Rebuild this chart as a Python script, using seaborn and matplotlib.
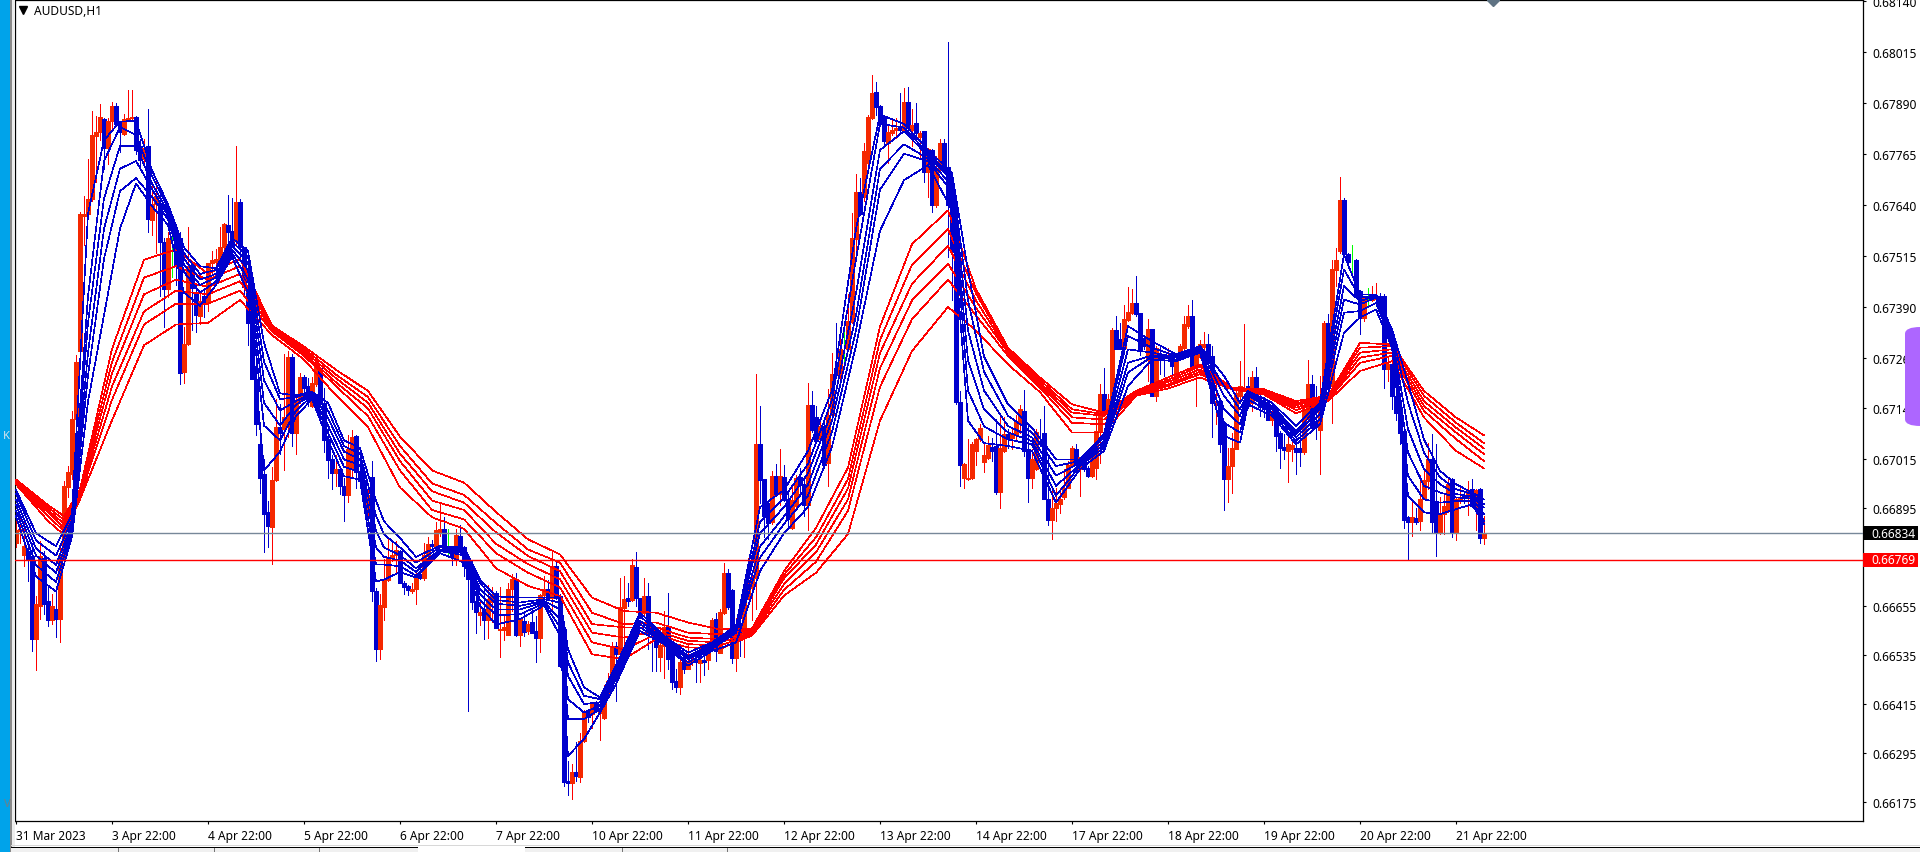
import numpy as np
import pandas as pd
import seaborn as sns
from matplotlib import pyplot as plt
from matplotlib.patches import Rectangle, FancyBboxPatch

# prices are in points (1e-5), one entry per H1 bar
opens = [66811,66839,66780,66790,66778,66574,66656,66774,66668,66621,66647,66623,
66779,66947,66980,67113,67281,67612,67618,67655,67808,67817,67850,67778,
67846,67883,67844,67813,67850,67853,67856,67784,67751,67784,67603,67642,
67645,67549,67433,67558,67558,67558,67229,67297,67491,67420,67367,67415,
67398,67496,67500,67506,67535,67590,67576,67551,67647,67537,67443,67388,
67212,67052,66979,66887,66850,66965,67094,67089,67094,67266,67080,67158,
67218,67195,67146,67200,67239,67154,67064,67015,66981,66991,66951,66928,
66995,67073,66983,66963,66891,66971,66693,66550,66653,66718,66776,66780,
66790,66713,66705,66691,66696,66734,66725,66780,66808,66802,66838,66845,
66808,66802,66774,66827,66801,66762,66722,66667,66634,66647,66622,66665,
66688,66596,66597,66585,66696,66721,66584,66619,66593,66615,66594,66576,
66682,66696,66676,66754,66680,66598,66227,66221,66247,66237,66325,66398,
66390,66417,66392,66380,66442,66472,66557,66537,66650,66674,66670,66752,
66674,66639,66679,66607,66594,66531,66558,66605,66566,66472,66456,66517,
66502,66517,66525,66516,66523,66522,66558,66623,66541,66639,66737,66695,
66527,66611,66582,66676,66700,66723,67053,66967,66907,66861,66974,66930,
66972,66917,66847,66900,66972,66955,66903,67149,67119,67064,67096,67007,
67124,67228,67222,67267,67285,67352,67555,67672,67659,67741,67852,67917,
67883,67855,67792,67815,67822,67829,67820,67891,67824,67840,67806,67820,
67720,67774,67638,67726,67790,67732,67682,67525,67156,66970,66967,66970,
67036,67064,67009,67018,67046,67048,66934,67036,67077,67068,67077,67105,
67135,67040,66969,66991,67060,67079,66918,66867,66895,66905,66922,66946,
67001,67040,66991,67022,66995,66975,66995,67085,67175,67126,67159,67332,
67311,67289,67358,67373,67398,67373,67314,67258,67334,67171,67273,67273,
67265,67273,67211,67262,67289,67342,67368,67244,67267,67290,67297,67269,
67153,67158,67101,66968,66999,67040,67171,67187,67195,67154,67218,67160,
67146,67144,67112,67138,67081,67046,67036,67040,67042,67042,67032,67113,
67199,67109,67087,67191,67349,67195,67479,67526,67652,67518,67501,67504,
67428,67361,67412,67406,67409,67417,67416,67236,67250,67171,67134,67085,
66873,66862,66871,66864,66919,66962,67015,66909,66837,66881,66889,66966,
66837,66914,66926,66921,66942,66899,66943,66823]
closes = [66843,66845,66803,66770,66574,66660,66778,66660,66621,66656,66623,66780,
66949,66984,67113,67254,67616,67618,67655,67810,67819,67854,67778,67846,
67881,67839,67818,67850,67853,67856,67775,67749,67779,67605,67642,67662,
67549,67433,67558,67558,67489,67226,67297,67489,67435,67369,67404,67397,
67498,67503,67507,67535,67592,67574,67539,67647,67535,67438,67350,67212,
67102,66969,66882,66852,66965,67094,67080,67119,67266,67080,67158,67216,
67189,67163,67202,67241,67151,67062,67014,66981,66991,66951,66928,67041,
67071,66983,66963,66914,66928,66693,66550,66658,66720,66776,66780,66794,
66713,66702,66695,66697,66732,66725,66780,66808,66802,66842,66845,66802,
66808,66778,66829,66799,66753,66721,66665,66640,66640,66622,66673,66684,
66601,66598,66605,66698,66721,66584,66623,66592,66612,66589,66576,66682,
66696,66676,66754,66676,66509,66224,66221,66247,66239,66325,66398,66382,
66417,66398,66396,66442,66472,66555,66537,66652,66672,66668,66755,66674,
66639,66679,66598,66597,66554,66559,66605,66525,66469,66456,66517,66500,
66518,66522,66518,66523,66518,66559,66621,66545,66641,66737,66652,66528,
66607,66578,66676,66703,66723,67053,66964,66875,66859,66974,66930,66974,
66915,66869,66915,66970,66953,66903,67149,67087,67059,67096,67001,67124,
67225,67222,67287,67267,67354,67557,67672,67617,67772,67855,67914,67880,
67838,67797,67817,67822,67829,67824,67891,67829,67836,67815,67815,67720,
67776,67638,67728,67790,67728,67640,67525,67156,67001,67004,66970,67053,
67064,67092,67027,67050,67036,66934,67042,67077,67064,67077,67107,67138,
67036,66969,67016,67082,67052,66918,66867,66897,66907,66917,66946,67001,
67042,67003,67020,66991,66975,67020,67085,67175,67126,67163,67332,67287,
67287,67360,67376,67398,67371,67285,67292,67334,67171,67289,67265,67265,
67271,67244,67262,67293,67346,67367,67244,67270,67297,67297,67252,67154,
67158,67052,66966,66999,67042,67179,67194,67191,67146,67218,67171,67144,
67138,67112,67130,67073,67042,67038,67052,67051,67033,67032,67138,67199,
67093,67097,67171,67349,67191,67481,67505,67651,67518,67499,67501,67414,
67361,67410,67412,67412,67417,67399,67236,67250,67171,67130,67081,66867,
66862,66873,66862,66919,66965,67015,66862,66837,66883,66901,66954,66836,
66917,66920,66922,66938,66901,66940,66823,66834]
highs = [66872,66868,66860,66815,66811,66680,66815,66790,66701,66684,66701,66803,
66963,67000,67134,67272,67622,67662,67753,67869,67857,67887,67853,67853,
67892,67890,67844,67862,67922,67922,67857,67802,67802,67875,67689,67705,
67668,67558,67572,67574,67558,67572,67341,67586,67498,67443,67420,67433,
67498,67526,67530,67586,67595,67664,67656,67784,67653,67537,67503,67424,
67277,67108,67015,66914,66997,67163,67151,67274,67281,67274,67172,67226,
67221,67214,67216,67246,67242,67191,67098,67025,67025,66997,66969,67075,
67086,67075,67015,66983,66950,67011,66700,66684,66770,66824,66817,66815,
66794,66716,66707,66711,66743,66756,66811,66824,66817,66861,66905,66873,
66845,66802,66845,66854,66803,66776,66767,66688,66667,66713,66707,66702,
66693,66702,66636,66713,66733,66737,66627,66643,66619,66647,66631,66684,
66729,66719,66794,66766,66684,66607,66276,66268,66321,66344,66401,66402,
66420,66423,66402,66461,66492,66566,66566,66723,66728,66711,66770,66789,
66676,66725,66711,66611,66598,66603,66642,66688,66570,66500,66523,66521,
66563,66541,66541,66527,66537,66562,66626,66639,66647,66760,66747,66697,
66627,66630,66680,66774,66741,67225,67147,66967,66912,66986,67004,67041,
67001,66935,66949,66976,66995,66967,67202,67184,67147,67119,67106,67188,
67276,67350,67311,67331,67422,67619,67714,67705,67790,67861,67958,67940,
67885,67857,67838,67852,67852,67914,67926,67929,67875,67889,67820,67820,
67778,67776,67760,67800,67800,68039,67695,67663,67184,67006,67064,67057,
67068,67101,67055,67073,67068,67113,67122,67118,67089,67089,67123,67148,
67185,67105,67040,67089,67113,67145,67020,66950,66946,66946,66991,67011,
67048,67052,67022,67028,66999,67024,67122,67201,67240,67175,67338,67367,
67350,67393,67439,67432,67466,67375,67318,67360,67336,67293,67293,67273,
67289,67277,67265,67297,67367,67393,67405,67270,67309,67328,67322,67293,
67203,67162,67105,67044,67081,67183,67256,67346,67216,67232,67242,67187,
67167,67158,67146,67142,67085,67077,67085,67064,67073,67089,67144,67258,
67221,67195,67220,67354,67371,67505,67534,67708,67656,67522,67542,67506,
67430,67416,67436,67440,67447,67424,67420,67269,67252,67175,67162,67089,
66877,66913,66897,66976,66987,67056,67078,67052,66922,66930,66970,66970,
66922,66944,66932,66962,66966,66942,66945,66877]
lows = [66799,66811,66754,66717,66545,66499,66623,66635,66607,66611,66580,66567,
66770,66922,66968,67106,67254,67542,67604,67650,67696,67798,67727,67739,
67822,67834,67770,67811,67848,67850,67765,67727,67745,67574,67566,67521,
67415,67339,67413,67463,67444,67201,67203,67295,67332,67327,67346,67364,
67378,67470,67470,67498,67507,67530,67535,67539,67507,67420,67295,67212,
67076,66933,66788,66799,66759,66962,67029,66988,67071,67048,67029,67154,
67163,67146,67143,67195,67151,67034,66969,66942,66951,66930,66863,66911,
66974,66944,66955,66886,66854,66667,66520,66525,66621,66716,66767,66734,
66711,66684,66682,66688,66661,66722,66720,66776,66794,66799,66826,66799,
66778,66757,66755,66794,66730,66398,66647,66590,66610,66575,66578,66615,
66601,66531,66571,66585,66643,66582,66558,66582,66586,66589,66517,66543,
66656,66672,66647,66672,66505,66213,66192,66182,66227,66223,66321,66372,
66355,66396,66327,66378,66435,66468,66423,66535,66558,66656,66668,66656,
66627,66631,66550,66496,66496,66496,66478,66500,66451,66445,66439,66490,
66500,66510,66468,66469,66486,66500,66551,66521,66540,66635,66647,66515,
66496,66533,66531,66672,66622,66649,66907,66824,66820,66857,66926,66903,
66912,66852,66845,66898,66926,66875,66843,67082,67059,67055,66995,66949,
67115,67220,67202,67237,67281,67350,67517,67615,67649,67737,67849,67861,
67834,67788,67742,67811,67803,67815,67820,67824,67785,67812,67753,67695,
67659,67622,67634,67720,67723,67511,67405,67152,66949,66944,66965,66968,
67001,67060,66983,67016,67011,66930,66895,67032,67042,67040,67060,67081,
67024,66911,66946,66989,67048,66918,66855,66821,66864,66883,66917,66944,
66999,66987,66926,66987,66973,66971,66968,67007,67122,67122,67154,67285,
67285,67287,67354,67371,67367,67270,67285,67207,67171,67158,67224,67220,
67260,67224,67207,67259,67285,67338,67242,67146,67265,67260,67236,67069,
67101,67032,66891,66911,66932,67040,67154,67183,67140,67134,67169,67122,
67120,67112,67099,67036,66995,67015,66960,67011,66979,67000,67028,67109,
67089,67066,66980,67167,67162,67104,67440,67522,67515,67485,67473,67412,
67322,67354,67395,67403,67407,67367,67191,67207,67138,67112,67052,66846,
66769,66826,66856,66842,66917,66942,66834,66779,66832,66832,66886,66824,
66818,66909,66909,66878,66899,66842,66811,66807]

# fan of slow averages, read top to bottom at each listed bar
red_bars = [0,8,12,16,24,32,40,48,56,64,72,80,88,96,104,112,120,128,136,144,152,160,168,176,184,
            192,200,208,216,224,233,240,248,256,264,272,280,288,296,304,312,320,328,336,344,352,360,367]
red1 = [66966,66903,66876,66942,67286,67505,67530,67470,67507,67343,67292,67235,67183,67071,66988,66958,66886,66819,66782,66676,66643,66639,66615,66598,66600,
        66741,66847,66995,67341,67543,67626,67433,67289,67216,67150,67130,67183,67216,67248,67191,67187,67158,67171,67301,67297,67183,67118,67074]
red2 = [66963,66897,66867,66936,67254,67461,67489,67456,67489,67341,67287,67223,67168,67048,66956,66928,66859,66794,66762,66639,66611,66615,66590,66586,66597,
        66732,66824,66967,67308,67493,67580,67422,67285,67210,67138,67126,67180,67210,67243,67191,67185,67153,67169,67289,67293,67171,67105,67055]
red3 = [66961,66891,66857,66931,67226,67420,67456,67438,67470,67338,67281,67214,67154,67029,66937,66909,66836,66778,66741,66611,66603,66603,66578,66574,66594,
        66723,66806,66944,67276,67446,67539,67405,67281,67203,67130,67122,67178,67205,67236,67190,67183,67148,67167,67277,67285,67158,67093,67042]
red4 = [66959,66885,66848,66926,67194,67378,67429,67420,67452,67333,67275,67204,67140,67011,66914,66891,66808,66758,66721,66590,66578,66594,66570,66566,66590,
        66709,66787,66917,67239,67405,67495,67387,67277,67197,67118,67113,67176,67199,67230,67189,67180,67142,67164,67265,67277,67146,67081,67028]
red5 = [66956,66876,66839,66922,67161,67346,67397,67397,67429,67329,67269,67195,67121,66988,66891,66868,66785,66737,66701,66566,66549,66586,66562,66558,66587,
        66695,66764,66889,67193,67359,67456,67368,67269,67191,67105,67101,67173,67195,67224,67189,67177,67136,67161,67252,67269,67134,67065,67011]
red6 = [66954,66864,66830,66917,67111,67295,67346,67350,67406,67320,67260,67172,67094,66946,66873,66845,66748,66705,66680,66537,66525,66574,66554,66550,66583,
        66681,66737,66832,67110,67281,67389,67331,67248,67180,67081,67081,67171,67189,67216,67187,67174,67128,67158,67232,67256,67118,67036,66993]

# fan of fast averages, read top to bottom at each listed bar
blue_bars = [0,5,10,14,18,22,26,30,34,38,42,46,50,54,58,62,66,70,74,78,82,86,90,92,96,100,106,112,116,120,
             126,132,136,138,142,146,150,156,162,168,174,180,186,192,198,204,210,216,222,228,234,238,242,
             248,254,260,266,272,278,284,290,296,302,306,308,314,320,326,332,336,340,344,348,352,356,360,364,367]
blue1 = [66940,66834,66802,66880,67618,67798,67844,67845,67724,67641,67535,67489,67484,67558,67526,67301,67177,67172,67181,67154,67062,67043,66914,66863,66822,66776,66803,66799,66720,66679,
         66676,66676,66676,66549,66456,66431,66509,66639,66582,66541,66566,66607,66898,66940,67036,67184,67580,67861,67838,67774,67718,67479,67267,
         67150,67093,67015,67015,67077,67342,67305,67273,67293,67220,67154,67183,67154,67097,67154,67518,67420,67420,67334,67203,67064,66987,66954,66934,66917]
blue2 = [66931,66816,66779,66867,67415,67747,67830,67811,67710,67632,67521,67470,67480,67549,67512,67255,67163,67168,67180,67135,67048,67029,66877,66831,66799,66762,66799,66794,66711,66670,
         66664,66672,66664,66517,66435,66427,66500,66631,66578,66533,66562,66603,66861,66921,67004,67161,67506,67838,67829,67766,67709,67405,67230,
         67122,67081,66999,67011,67069,67318,67289,67269,67292,67195,67138,67179,67146,67085,67146,67481,67412,67417,67326,67154,67032,66971,66942,66930,66905]
blue3 = [66917,66797,66756,66857,67350,67655,67784,67784,67692,67622,67507,67456,67470,67539,67498,67209,67135,67158,67177,67117,67034,67015,66840,66799,66780,66748,66794,66790,66697,66661,
         66656,66668,66647,66484,66415,66419,66492,66619,66574,66529,66558,66598,66834,66898,66981,67133,67423,67774,67820,67760,67700,67331,67184,
         67097,67069,66975,67007,67060,67285,67277,67266,67289,67171,67122,67175,67142,67077,67138,67440,67403,67416,67318,67089,66991,66954,66930,66924,66897]
blue4 = [66903,66779,66737,66848,67277,67581,67728,67747,67678,67613,67493,67443,67461,67530,67480,67154,67098,67149,67174,67098,67015,67002,66799,66776,66767,66739,66794,66785,66684,66647,
         66647,66665,66623,66427,66394,66411,66484,66611,66570,66525,66554,66594,66801,66875,66953,67110,67368,67728,67788,67753,67686,67258,67138,
         67081,67060,66950,67003,67052,67252,67270,67265,67285,67138,67101,67171,67138,67069,67126,67407,67395,67412,67309,67032,66950,66934,66922,66919,66881]
blue5 = [66890,66756,66714,66839,67221,67507,67673,67705,67659,67604,67475,67424,67452,67521,67456,67098,67062,67135,67170,67080,66997,66983,66757,66757,66753,66730,66790,66780,66670,66633,
         66635,66662,66603,66378,66378,66402,66476,66603,66566,66517,66550,66590,66774,66857,66926,67082,67331,67677,67765,67746,67672,67184,67096,
         67064,67052,66926,66999,67044,67228,67267,67260,67281,67105,67081,67162,67130,67060,67113,67375,67379,67399,67301,66975,66917,66909,66913,66913,66864]
blue6 = [66876,66728,66691,66825,67157,67369,67581,67692,67636,67590,67424,67392,67443,67512,67424,66988,67034,67121,67163,67062,66974,66965,66716,66720,66739,66725,66785,66762,66656,66610,
         66623,66657,66582,66288,66329,66394,66464,66594,66562,66509,66545,66566,66741,66834,66898,67046,67294,67576,67700,67737,67626,67110,67055,
         67048,67036,66909,66991,67036,67195,67260,67256,67277,67073,67056,67150,67122,67052,67101,67326,67363,67383,67289,66926,66885,66881,66893,66905,66856]

y_ticks = [68140,68015,67890,67765,67640,67515,67390,67265,67140,67015,66895,66775,66655,66535,66415,66295,66175]
x_days = ["31 Mar 2023","3 Apr 22:00","4 Apr 22:00","5 Apr 22:00","6 Apr 22:00","7 Apr 22:00","10 Apr 22:00","11 Apr 22:00",
          "12 Apr 22:00","13 Apr 22:00","14 Apr 22:00","17 Apr 22:00","18 Apr 22:00","19 Apr 22:00","20 Apr 22:00","21 Apr 22:00"]
bid_line = 66834
level_line = 66769

sns.set_theme(style="white")
plt.rcParams['font.family'] = ['Noto Sans', 'DejaVu Sans']

W, H = 1920, 853
fig = plt.figure(figsize=(W / 100, H / 100), dpi=100, facecolor="white")
ax = fig.add_axes([15 / W, 1 - 822 / H, (1863 - 15) / W, 821 / H])

def px_rect(x0, y0, x1, y1, color, z=5):
    fig.add_artist(Rectangle((x0 / W, 1 - y1 / H), (x1 - x0) / W, (y1 - y0) / H, transform=fig.transFigure,
                             facecolor=color, edgecolor="none", zorder=z))

BLUE = "#0000CD"
RED = "#FF0000"
GREEN = "#00FF00"

bars = pd.DataFrame({"open": opens, "close": closes, "high": highs, "low": lows}) / 1e5
bars["bar"] = np.arange(len(bars))
bars["color"] = np.where(bars.close > bars.open, RED, np.where(bars.close < bars.open, BLUE, GREEN))
body_colors = bars.color.replace({RED: "#F52800"})

ax.vlines(bars.bar, bars.low, bars.high, colors=bars.color, linewidth=0.6, antialiased=False, zorder=2)
ax.vlines(bars.bar, bars.open, bars.close, colors=body_colors, linewidth=2.3, antialiased=False, zorder=2.1)

lines = []
for name, vals in zip("abcdef", [red1, red2, red3, red4, red5, red6]):
    lines.append(pd.DataFrame({"bar": red_bars, "price": np.array(vals) / 1e5, "line": "r" + name}))
red_df = pd.concat(lines)
lines = []
for name, vals in zip("abcdef", [blue1, blue2, blue3, blue4, blue5, blue6]):
    lines.append(pd.DataFrame({"bar": blue_bars, "price": np.array(vals) / 1e5, "line": "b" + name}))
blue_df = pd.concat(lines)

sns.lineplot(data=red_df, x="bar", y="price", units="line", estimator=None, color=RED, linewidth=0.45,
             antialiased=False, zorder=3, ax=ax, legend=False)
sns.lineplot(data=blue_df, x="bar", y="price", units="line", estimator=None, color=BLUE, linewidth=0.45,
             antialiased=False, zorder=3.1, ax=ax, legend=False)

ax.axhline(bid_line / 1e5, color="#778899", linewidth=1.0, zorder=4)
ax.axhline(level_line / 1e5, color=RED, linewidth=1.0, zorder=4)

ax.set_xlim(-0.25, 461.75)
ax.set_ylim(0.66128, 0.68142)
ax.set_xlabel("")
ax.set_ylabel("")

ax.yaxis.tick_right()
ax.set_yticks(np.array(y_ticks) / 1e5)
ax.set_yticklabels(["%.5f" % (v / 1e5) for v in y_ticks])
ax.set_xticks(np.arange(len(x_days)) * 24)
ax.set_xticklabels(x_days, ha="left")
ax.tick_params(axis="both", length=2.5, width=0.8, color="black", labelcolor="black", labelsize=8.6,
               bottom=True, right=True, left=False, top=False)
ax.tick_params(axis="x", pad=3.5)
ax.tick_params(axis="y", pad=4)
for s in ax.spines.values():
    s.set_color("black")
    s.set_linewidth(0.9)

# chart title with the small drop-down arrow
ax.plot([8 / 1848], [1 - 10 / 821], marker="v", color="black", markersize=5.5, transform=ax.transAxes, clip_on=False)
ax.text(19 / 1848, 1 - 11 / 821, "AUDUSD,H1", transform=ax.transAxes, va="center", ha="left", fontsize=8.6, color="black")
ax.plot([1478 / 1848], [1.0], marker="D", color="#5f7383", markersize=6, transform=ax.transAxes, clip_on=True, zorder=6)

# price flags on the right scale
for val, col in [(bid_line, "black"), (level_line, RED)]:
    ax.add_patch(Rectangle((1863.5 / 1848 - 15 / 1848, val / 1e5 - 7 / 40815), 55 / 1848, 14 / 40815,
                           transform=ax.get_yaxis_transform(), facecolor=col, edgecolor="none", clip_on=False, zorder=6))
    ax.text((1871 - 15) / 1848, val / 1e5, "%.5f" % (val / 1e5), transform=ax.get_yaxis_transform(), color="white",
            fontsize=8.6, va="center", ha="left", clip_on=False, zorder=7)

# terminal window chrome round the chart
px_rect(0, 0, 10, H, "#00A3EA")
px_rect(10, 0, 12, H, "#8a8a8a")
px_rect(12, 0, 14.5, H, "#ececec")
px_rect(11, 846, W, 847, "#d8d8d8")
px_rect(11, 848, 418, H, "#f0f0f0")
px_rect(525, 848, W, H, "#f0f0f0")
px_rect(11, 848, 418, 849, "#000000", 6)
px_rect(525, 848, W, 849, "#000000", 6)
for sep in [118, 214, 319, 622, 727]:
    px_rect(sep, 849, sep + 1, H, "#777777", 6)
fig.add_artist(FancyBboxPatch((1905 / W, 1 - 427 / H), 40 / W, 99 / H, boxstyle="round,pad=0,rounding_size=0.008",
                              transform=fig.transFigure, facecolor="#AD66FF", edgecolor="none", zorder=8,
                              mutation_aspect=1.0))
fig.text(6 / W, 1 - 437 / H, "K", fontsize=8, color="#d8e4ea", ha="center", va="center", zorder=9)
fig.text(7 / W, 1 - 805 / H, "V", fontsize=8, color="#6f7f88", ha="center", va="center", zorder=9)

fig.savefig("out.png", dpi=100, facecolor="white")
